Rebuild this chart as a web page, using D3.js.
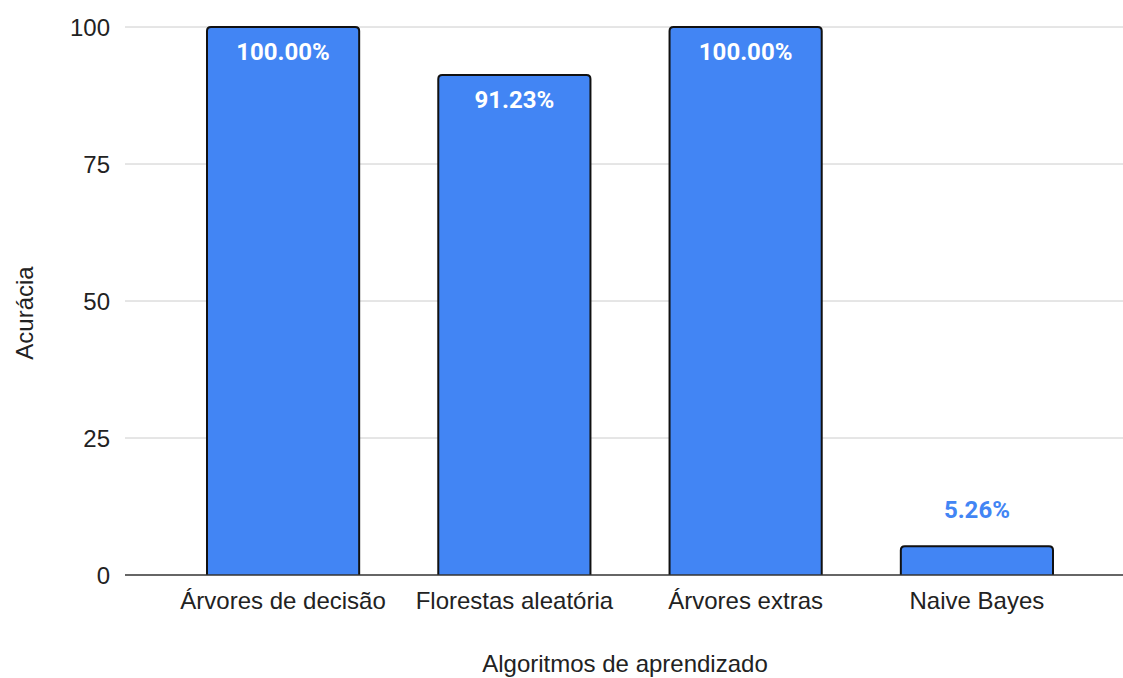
<!DOCTYPE html>
<html><head><meta charset="utf-8">
<script src="https://cdn.jsdelivr.net/npm/d3@7"></script>
<style>body{margin:0;background:#fff}svg{display:block}</style>
</head><body>
<svg id="c" width="1123" height="678"></svg>
<script>
const categories = ["Árvores de decisão", "Florestas aleatória", "Árvores extras", "Naive Bayes"];
const values = [100.00, 91.23, 100.00, 5.26];
const yTicks = [0, 25, 50, 75, 100];

const svg = d3.select("#c");
const mLeft = 125, mRight = 1123, mTop = 27, mBottom = 575;
const FONT = "Liberation Sans, Arial, sans-serif";
const x = d3.scaleBand().domain(categories).range([207, 1053]).paddingInner(0.342).paddingOuter(0);
const y = d3.scaleLinear().domain([0, 100]).range([mBottom, mTop]);

// grid
svg.append("g").selectAll("line").data(yTicks.filter(d => d > 0)).join("line")
  .attr("x1", mLeft).attr("x2", mRight).attr("y1", d => y(d)).attr("y2", d => y(d))
  .attr("stroke", "#cccccc").attr("stroke-width", 1);

// y tick labels
svg.append("g").selectAll("text").data(yTicks).join("text")
  .attr("x", 110).attr("y", d => y(d) + 8.5)
  .attr("text-anchor", "end")
  .attr("font-family", FONT).attr("font-size", 24).attr("fill", "#222")
  .text(d => d);

// bars with rounded top
const r = 4;
function barPath(d, i) {
  const x0 = x(categories[i]), w = x.bandwidth(), y0 = y(d), y1 = y(0);
  return `M${x0},${y1}V${y0 + r}Q${x0},${y0} ${x0 + r},${y0}H${x0 + w - r}Q${x0 + w},${y0} ${x0 + w},${y0 + r}V${y1}`;
}
svg.append("g").selectAll("path").data(values).join("path")
  .attr("d", barPath)
  .attr("fill", "#4285f4").attr("stroke", "#111").attr("stroke-width", 2);

// baseline
svg.append("line").attr("x1", mLeft).attr("x2", mRight).attr("y1", y(0)).attr("y2", y(0))
  .attr("stroke", "#333").attr("stroke-width", 1.5);

// value labels
svg.append("g").selectAll("text").data(values).join("text")
  .attr("x", (d, i) => x(categories[i]) + x.bandwidth() / 2)
  .attr("y", d => d > 20 ? y(d) + 33 : y(d) - 28)
  .attr("text-anchor", "middle")
  .attr("font-family", "Roboto, sans-serif").attr("font-weight", "bold").attr("font-size", 24)
  .attr("fill", d => d > 20 ? "#ffffff" : "#4285f4")
  .text(d => d.toFixed(2) + "%");

// x tick labels
svg.append("g").selectAll("text").data(categories).join("text")
  .attr("x", d => x(d) + x.bandwidth() / 2).attr("y", mBottom + 33.5)
  .attr("text-anchor", "middle")
  .attr("font-family", FONT).attr("font-size", 24).attr("fill", "#222")
  .text(d => d);

// axis titles
svg.append("text").attr("x", 625).attr("y", 672).attr("text-anchor", "middle")
  .attr("font-family", FONT).attr("font-size", 24).attr("fill", "#222")
  .text("Algoritmos de aprendizado");
svg.append("text").attr("transform", "translate(32.5,313) rotate(-90)").attr("text-anchor", "middle")
  .attr("font-family", FONT).attr("font-size", 24).attr("fill", "#222")
  .text("Acurácia");
</script>
</body></html>
